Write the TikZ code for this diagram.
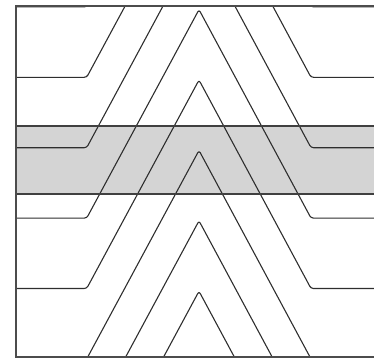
\documentclass[tikz,border=0pt]{standalone}
\begin{document}
\begin{tikzpicture}[x=1pt,y=-1pt,
  zigline/.style={draw=black!82, line width=1.1pt, line join=round, rounded corners=2.5pt},
  bandline/.style={draw=black!75, line width=1.3pt},
  frameline/.style={draw=black!70, line width=1.7pt}]
\useasboundingbox (0,0) rectangle (374,360);
\fill[black!17] (15.7,126) rectangle (374,194);
\begin{scope}
\clip (15.7,5.7) rectangle (374,357);
\foreach \k in {-1,...,6} {
  \pgfmathsetmacro{\L}{77.3+70.4*\k}
  \pgfmathsetmacro{\P}{\L-208.5}
  \draw[zigline] (0,\L) -- (86.7,\L) -- (199,\P) -- (311,\L) -- (380,\L);
}
\end{scope}
\draw[bandline] (15.7,126) -- (374,126);
\draw[bandline] (15.7,194) -- (374,194);
\draw[frameline] (374,5.7) -- (15.7,5.7) -- (15.7,357) -- (374,357);
\end{tikzpicture}
\end{document}
